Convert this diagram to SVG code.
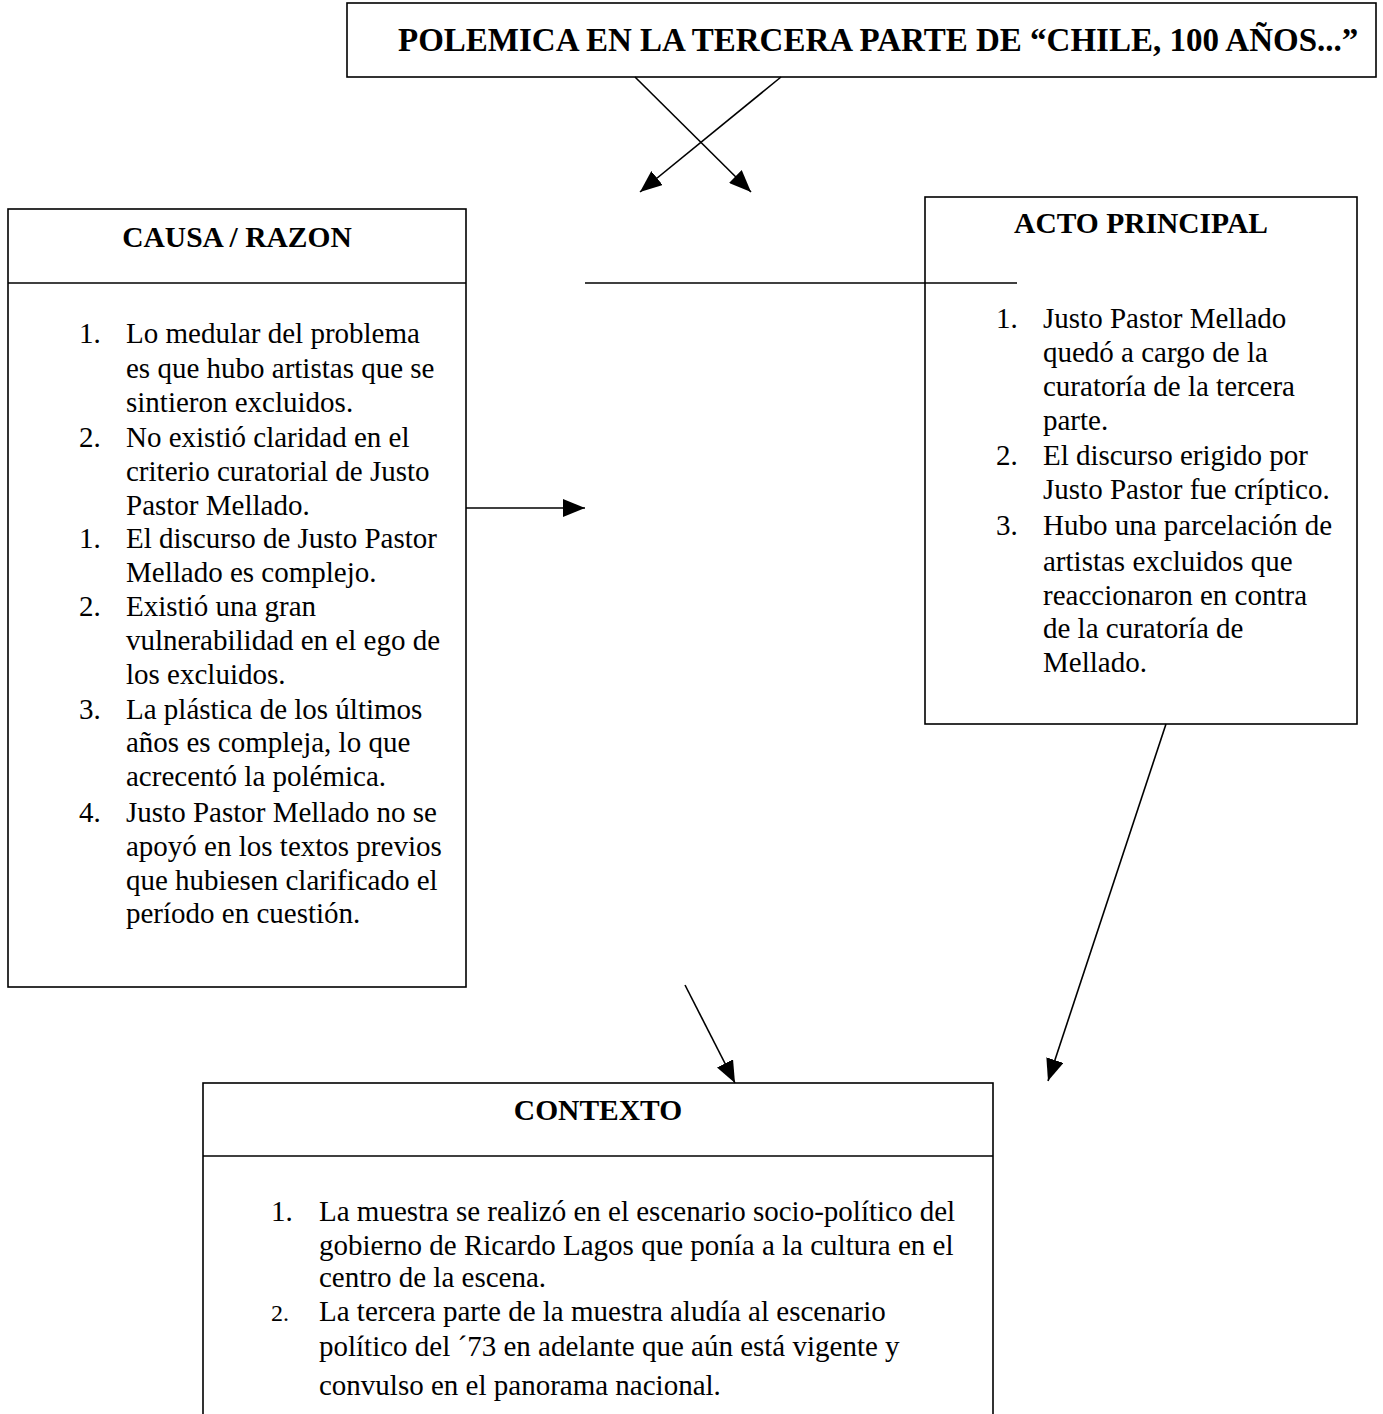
<svg xmlns="http://www.w3.org/2000/svg" width="1383" height="1414" viewBox="0 0 1383 1414">
<style>
  .box { fill: #fff; stroke: #000; stroke-width: 1.6; }
  .div { stroke: #000; stroke-width: 1.6; }
  .conn { stroke: #000; stroke-width: 1.6; fill: none; }
  .head { font-family: "Liberation Serif", "Times New Roman", serif; font-weight: bold; font-size: 29.5px; fill: #000; }
  .body { font-family: "Liberation Serif", "Times New Roman", serif; font-size: 29px; fill: #000; }
</style>
<defs>
  <marker id="arr" markerUnits="userSpaceOnUse" markerWidth="24" markerHeight="18" refX="22" refY="9" orient="auto">
    <path d="M0,0 L22,9 L0,18 z" fill="#000"/>
  </marker>
</defs>
<rect width="1383" height="1414" fill="#fff"/>

<g id="title">
  <rect class="box" x="347" y="3" width="1029" height="74"/>
  <text class="head" x="398" y="51" style="font-size:33px">POLEMICA EN LA TERCERA PARTE DE “CHILE, 100 AÑOS...”</text>
</g>

<g id="causa">
  <rect class="box" x="8" y="209" width="458" height="778"/>
  <line class="div" x1="8" y1="283" x2="466" y2="283"/>
  <text class="head" x="237" y="247" text-anchor="middle">CAUSA / RAZON</text>
  <g class="body">
    <text x="79" y="343">1.</text><text x="126" y="343">Lo medular del problema</text>
    <text x="126" y="378">es que hubo artistas que se</text>
    <text x="126" y="412">sintieron excluidos.</text>
    <text x="79" y="447">2.</text><text x="126" y="447">No existió claridad en el</text>
    <text x="126" y="481">criterio curatorial de Justo</text>
    <text x="126" y="515">Pastor Mellado.</text>
    <text x="79" y="548">1.</text><text x="126" y="548">El discurso de Justo Pastor</text>
    <text x="126" y="582">Mellado es complejo.</text>
    <text x="79" y="616">2.</text><text x="126" y="616">Existió una gran</text>
    <text x="126" y="650">vulnerabilidad en el ego de</text>
    <text x="126" y="684">los excluidos.</text>
    <text x="79" y="719">3.</text><text x="126" y="719">La plástica de los últimos</text>
    <text x="126" y="752">años es compleja, lo que</text>
    <text x="126" y="786">acrecentó la polémica.</text>
    <text x="79" y="822">4.</text><text x="126" y="822">Justo Pastor Mellado no se</text>
    <text x="126" y="856">apoyó en los textos previos</text>
    <text x="126" y="890">que hubiesen clarificado el</text>
    <text x="126" y="923">período en cuestión.</text>
  </g>
</g>

<g id="acto">
  <rect class="box" x="925" y="197" width="432" height="527"/>
  <text class="head" x="1141" y="233" text-anchor="middle">ACTO PRINCIPAL</text>
  <g class="body">
    <text x="996" y="328">1.</text><text x="1043" y="328">Justo Pastor Mellado</text>
    <text x="1043" y="362">quedó a cargo de la</text>
    <text x="1043" y="396">curatoría de la tercera</text>
    <text x="1043" y="430">parte.</text>
    <text x="996" y="465">2.</text><text x="1043" y="465">El discurso erigido por</text>
    <text x="1043" y="499">Justo Pastor fue críptico.</text>
    <text x="996" y="535">3.</text><text x="1043" y="535">Hubo una parcelación de</text>
    <text x="1043" y="571">artistas excluidos que</text>
    <text x="1043" y="605">reaccionaron en contra</text>
    <text x="1043" y="638">de la curatoría de</text>
    <text x="1043" y="672">Mellado.</text>
  </g>
</g>

<g id="contexto">
  <rect class="box" x="203" y="1083" width="790" height="360"/>
  <line class="div" x1="203" y1="1156" x2="993" y2="1156"/>
  <text class="head" x="598" y="1120" text-anchor="middle">CONTEXTO</text>
  <g class="body">
    <text x="271" y="1221">1.</text><text x="319" y="1221">La muestra se realizó en el escenario socio-político del</text>
    <text x="319" y="1255">gobierno de Ricardo Lagos que ponía a la cultura en el</text>
    <text x="319" y="1287">centro de la escena.</text>
    <text x="271" y="1321" style="font-size:24px">2.</text><text x="319" y="1321">La tercera parte de la muestra aludía al escenario</text>
    <text x="319" y="1356">político del ´73 en adelante que aún está vigente y</text>
    <text x="319" y="1395">convulso en el panorama nacional.</text>
  </g>
</g>

<g id="connectors">
  <line class="conn" x1="635" y1="77" x2="751" y2="192" marker-end="url(#arr)"/>
  <line class="conn" x1="781" y1="77" x2="640" y2="192" marker-end="url(#arr)"/>
  <line class="conn" x1="585" y1="283" x2="1017" y2="283"/>
  <line class="conn" x1="466" y1="508" x2="585" y2="508" marker-end="url(#arr)"/>
  <line class="conn" x1="1166" y1="724" x2="1048" y2="1081" marker-end="url(#arr)"/>
  <line class="conn" x1="685" y1="985" x2="735" y2="1083" marker-end="url(#arr)"/>
</g>
</svg>
